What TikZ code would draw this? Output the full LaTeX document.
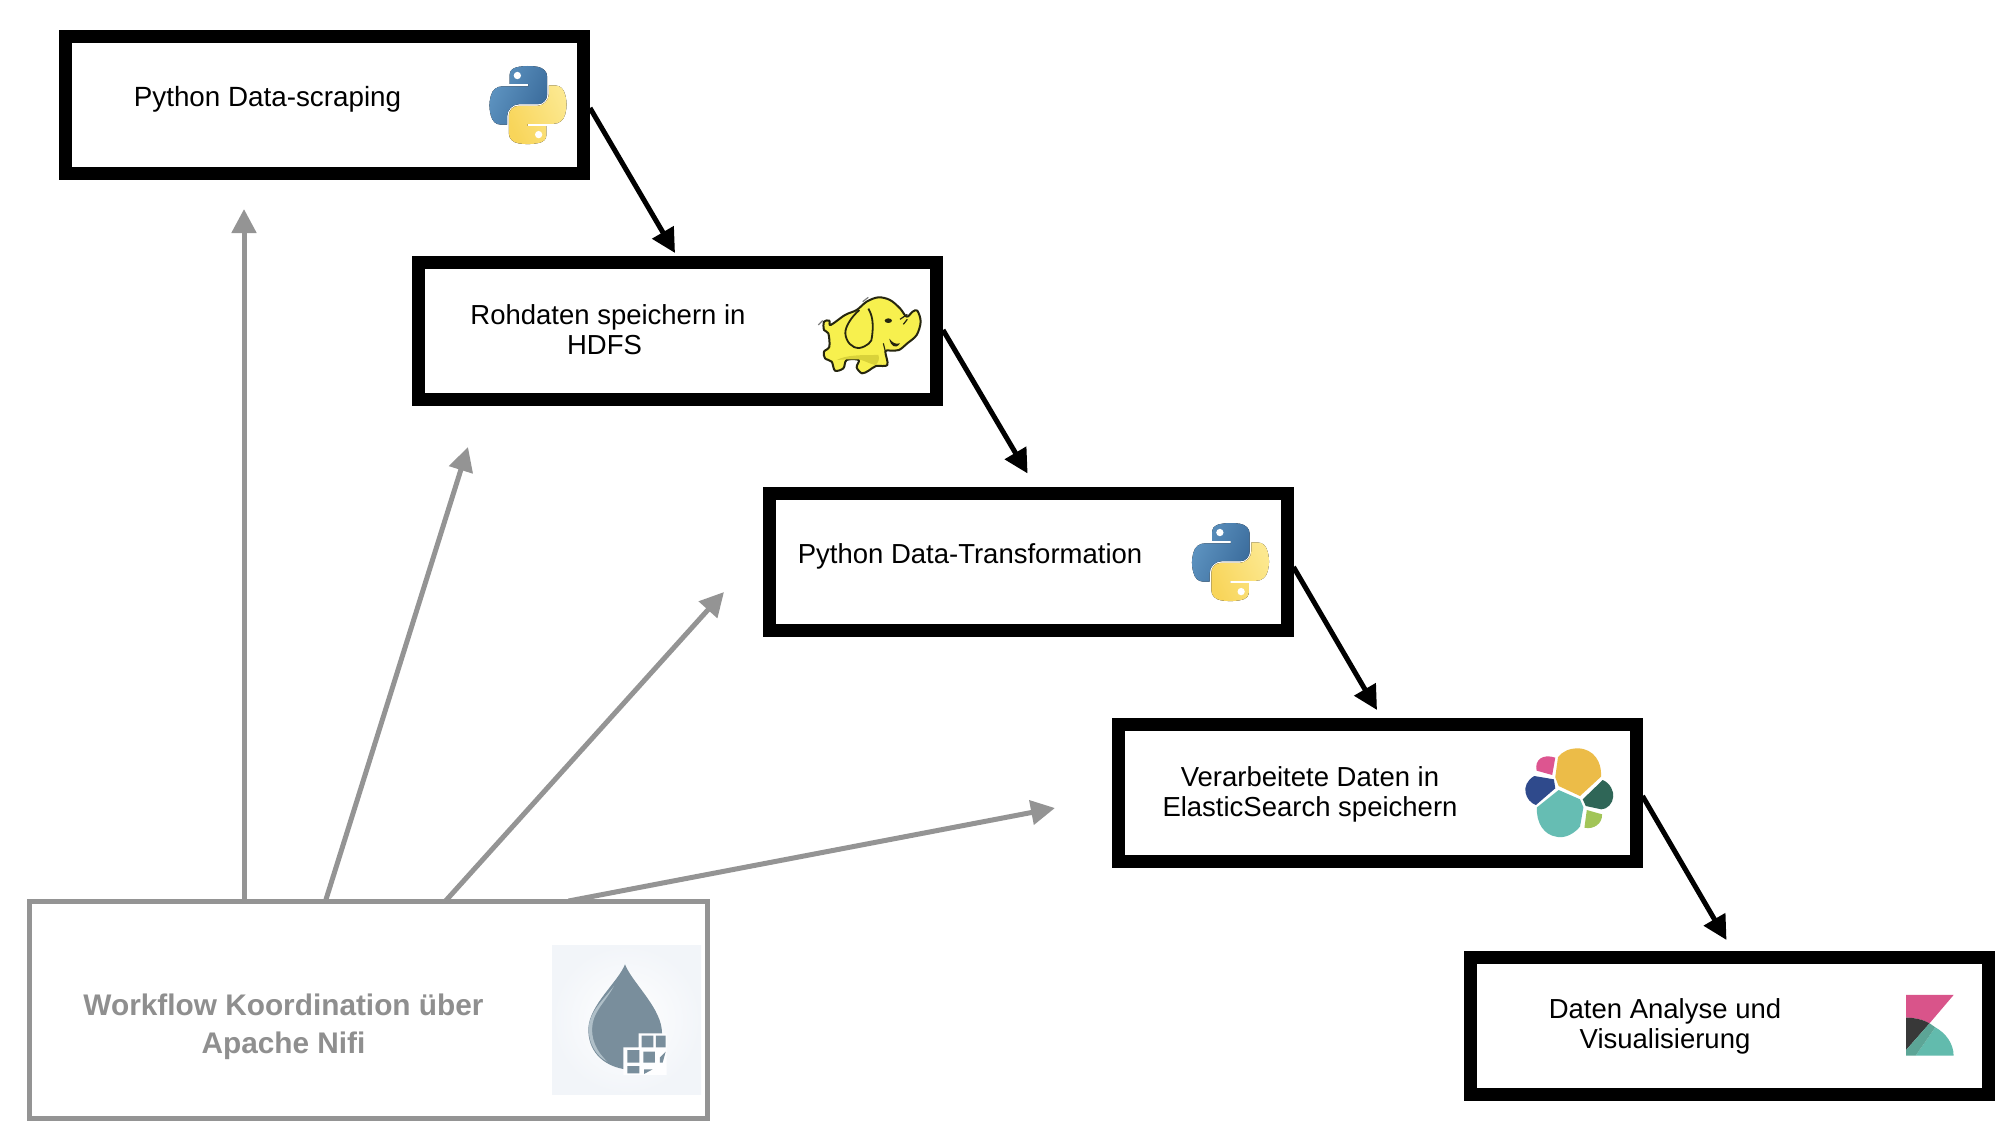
\documentclass[tikz,border=0pt]{standalone}
\usepackage{fontspec}
\setmainfont{Liberation Sans}
\usetikzlibrary{arrows.meta}
\definecolor{gr}{HTML}{949494}
\definecolor{grt}{HTML}{8F8F8F}
\definecolor{pyblueA}{HTML}{5F95C2}
\definecolor{pyblueB}{HTML}{3A6B9B}
\definecolor{pyyelA}{HTML}{FCE88F}
\definecolor{pyyelB}{HTML}{F8D55A}
\definecolor{elephant}{HTML}{F7F04E}
\definecolor{eleshade}{HTML}{D9D23A}
\definecolor{eleline}{HTML}{26260F}
\definecolor{esyellow}{HTML}{ECBC48}
\definecolor{espink}{HTML}{DD5590}
\definecolor{esblue}{HTML}{2F4A8C}
\definecolor{esteal}{HTML}{66BDB3}
\definecolor{esdark}{HTML}{2F6657}
\definecolor{eslight}{HTML}{A2C558}
\definecolor{kbpink}{HTML}{D9548A}
\definecolor{kbdark}{HTML}{383838}
\definecolor{kbteal}{HTML}{62BBAD}
\definecolor{kbmix}{HTML}{5CA596}
\definecolor{drop}{HTML}{798E9C}
\definecolor{droplight}{HTML}{AFBFC8}
\definecolor{nifibg}{HTML}{F2F5F9}
\tikzset{
  stage/.style={draw=black,fill=white,line width=13pt,minimum width=518pt,minimum height=137pt,inner sep=0pt},
  coord/.style={draw=gr,fill=white,line width=5pt,minimum width=678pt,minimum height=217pt,inner sep=0pt},
  lab/.style={font=\fontsize{27.5pt}{30pt}\selectfont,text=black,inner sep=0pt,align=center,anchor=center},
  lablong/.style={lab,font=\fontsize{27.8pt}{30pt}\selectfont},
  glab/.style={font=\fontsize{29.8pt}{37.7pt}\selectfont\bfseries,text=grt,inner sep=0pt,align=center,anchor=center},
  flow/.style={draw=black,line width=5pt,-{Triangle[length=24pt,width=24pt]}},
  ctrl/.style={draw=gr,line width=5pt,-{Triangle[length=24pt,width=24pt]}},
}
\newcommand{\pylogo}[2]{%
\begin{scope}[shift={(#1,#2)},x=0.70pt,y=-0.71pt]
\fill[left color=pyblueA,right color=pyblueB,shading angle=65]
 (54.9,0) .. controls (50.3,0) and (46,0.4) .. (42.1,1.1)
 .. controls (30.7,3.1) and (28.6,7.3) .. (28.6,15) -- (28.6,25.2) -- (55.4,25.2) -- (55.4,28.6) -- (18.5,28.6)
 .. controls (10.7,28.6) and (3.9,33.3) .. (1.8,42.2)
 .. controls (-0.7,52.3) and (-0.8,58.6) .. (1.8,69.2)
 .. controls (3.7,77) and (8.2,82.6) .. (16,82.6) -- (25.2,82.6) -- (25.2,70.4)
 .. controls (25.2,61.6) and (32.9,53.8) .. (42.1,53.8) -- (68.9,53.8)
 .. controls (76.4,53.8) and (82.4,47.6) .. (82.4,40.1) -- (82.4,15)
 .. controls (82.4,7.8) and (76.3,2.3) .. (68.9,1.1)
 .. controls (64.3,0.3) and (59.5,0) .. (54.9,0) -- cycle;
\fill[left color=pyyelA,right color=pyyelB,shading angle=-65]
 (55.1,110) .. controls (59.7,110) and (64,109.6) .. (67.9,108.9)
 .. controls (79.3,106.9) and (81.4,102.7) .. (81.4,95) -- (81.4,84.8) -- (54.6,84.8) -- (54.6,81.4) -- (91.5,81.4)
 .. controls (99.3,81.4) and (106.1,76.7) .. (108.2,67.8)
 .. controls (110.7,57.7) and (110.8,51.4) .. (108.2,40.8)
 .. controls (106.3,33) and (101.8,27.4) .. (94,27.4) -- (84.8,27.4) -- (84.8,39.6)
 .. controls (84.8,48.4) and (77.1,56.2) .. (67.9,56.2) -- (41.1,56.2)
 .. controls (33.6,56.2) and (27.6,62.4) .. (27.6,69.9) -- (27.6,95)
 .. controls (27.6,102.2) and (33.7,107.7) .. (41.1,108.9)
 .. controls (45.7,109.7) and (50.5,110) .. (55.1,110) -- cycle;
\fill[white] (39.8,13.4) circle[radius=5.2];
\fill[white] (70.2,96.6) circle[radius=5.2];
\end{scope}}
\begin{document}
\begin{tikzpicture}[x=1pt,y=-1pt]
\useasboundingbox (0,0) rectangle (2010,1148);
% boxes
\node[stage] (b1) at (324.5,105) {};
\node[stage] (b2) at (677.5,331) {};
\node[stage] (b3) at (1028,562) {};
\node[stage] (b4) at (1377,793) {};
\node[stage] (b5) at (1729.5,1026) {};
\node[coord] (nifi) at (368.5,1010) {};
% labels
\node[lablong] (t1) at (267.5,99) {Python Data-scraping};
\node[lab] (t2) at (608,329.5) {Rohdaten speichern in\\HDFS\hspace*{7pt}};
\node[lab] (t3) at (970,556.5) {Python Data-Transformation};
\node[lab] (t4) at (1310,794) {Verarbeitete Daten in\\ElasticSearch speichern};
\node[lab] (t5) at (1665,1026) {Daten Analyse und\\Visualisierung};
\node[glab] (t6) at (283.5,1027) {Workflow Koordination über\\Apache Nifi};
% free ends
\coordinate (h1) at (675,253);
\coordinate (h2) at (1027.6,473.5);
\coordinate (h3) at (1377,710);
\coordinate (h4) at (1726.5,940);
\coordinate (g1) at (244,209);
\coordinate (g2) at (468,447);
\coordinate (g3) at (724,592);
\coordinate (g4) at (1055,808);
% connectors
\draw[flow] ([yshift=-3pt]b1.east) -- (h1);
\draw[flow] ([yshift=1pt]b2.east) -- (h2);
\draw[flow] ([yshift=-5pt]b3.east) -- (h3);
\draw[flow] ([yshift=-3pt]b4.east) -- (h4);
\draw[ctrl] ([xshift=-124.5pt,yshift=-2pt]nifi.north) -- (g1);
\draw[ctrl] ([xshift=-43pt,yshift=-2pt]nifi.north) -- (g2);
\draw[ctrl] ([xshift=77pt,yshift=-2pt]nifi.north) -- (g3);
\draw[ctrl] ([xshift=200pt,yshift=-2pt]nifi.north) -- (g4);
% python logos
\pylogo{489.5}{66}
\pylogo{1192}{523}
% hadoop elephant
\begin{scope}[shift={(800,280)},x=0.3333pt,y=-0.3333pt]
\draw[draw=eleline,line width=2pt,fill=elephant,line join=round]
 plot[smooth cycle,tension=.55] coordinates {(352,92)(362,125)(350,165)(322,190)(297,210)(272,212)(256,214)(262,255)(228,258)(206,272)(186,280)(170,262)(176,240)(140,240)(130,265)(105,272)(95,245)(75,235)(72,215)(88,200)(85,160)(72,150)(72,125)(88,122)(92,135)(135,105)(170,90)(200,65)(235,52)(270,60)(300,85)(320,110)(338,95)};
\fill[eleshade] (110,240) .. controls (140,225) and (180,225) .. (235,225) .. controls (240,235) and (235,250) .. (225,255) .. controls (205,250) and (190,240) .. (175,238) -- (140,238) -- cycle;
\draw[eleline,line width=1.8pt,fill=elephant]
 (178,90) .. controls (155,110) and (135,140) .. (136,160) .. controls (138,185) and (155,205) .. (178,204) .. controls (200,200) and (218,185) .. (216,170) .. controls (220,140) and (220,110) .. (205,86);
\fill[eleline] (265,122) ellipse[x radius=11,y radius=7];
\fill[eleline] (268,176) .. controls (272,200) and (288,208) .. (300,190) .. controls (285,194) and (278,188) .. (268,176) -- cycle;
\draw[gray,line width=1.2pt] (55,135) -- (68,122) (188,65) -- (205,52);
\draw[eleline,line width=1.2pt] (300,118) -- (322,103) (310,133) -- (322,118) (256,214) -- (250,190);
\end{scope}
% elasticsearch
\begin{scope}[shift={(1480,720)},x=0.339pt,y=-0.3333pt]
\fill[esyellow] (222,172) -- (230,112) .. controls (245,92) and (265,85) .. (290,85) .. controls (335,87) and (360,125) .. (357,170) -- (295,228) -- (232,198) -- cycle;
\fill[espink] (167,152) .. controls (160,120) and (185,100) .. (222,113) -- (213,165) -- cycle;
\fill[esblue] (160,168) -- (218,178) -- (222,205) -- (165,255) .. controls (135,245) and (115,195) .. (160,168) -- cycle;
\fill[esteal] (232,210) -- (295,238) -- (305,262) -- (295,320) .. controls (270,350) and (240,355) .. (225,350) .. controls (190,345) and (165,310) .. (168,262) -- cycle;
\fill[esdark] (303,238) -- (362,180) .. controls (385,190) and (395,215) .. (393,230) .. controls (392,250) and (375,268) .. (358,268) -- (312,258) -- cycle;
\fill[eslight] (315,270) -- (360,283) .. controls (362,310) and (335,330) .. (308,323) -- cycle;
\end{scope}
% kibana
\begin{scope}[shift={(1480,720)},x=0.339pt,y=-0.3333pt]
\fill[kbpink] (1257,825) -- (1397,825) -- (1326,910) .. controls (1305,898) and (1280,893) .. (1257,893) -- cycle;
\fill[kbdark] (1257,893) .. controls (1280,893) and (1305,898) .. (1326,910) -- (1257,990) -- cycle;
\fill[kbteal] (1343,922) .. controls (1375,940) and (1397,972) .. (1397,1007) -- (1285,1007) -- cycle;
\fill[kbmix] (1326,910) -- (1343,922) -- (1285,1007) -- (1257,1007) -- (1257,990) -- cycle;
\end{scope}
% nifi
\fill[inner color=white,outer color=nifibg] (552,945) rectangle (701,1094);
\begin{scope}[shift={(570,950)},x=0.3333pt,y=-0.3333pt]
\fill[drop] (165,43) .. controls (185,95) and (265,165) .. (275,235) -- (280,300) -- (190,360) -- (160,357) .. controls (95,345) and (53,300) .. (55,235) .. controls (58,165) and (145,95) .. (165,43) -- cycle;
\fill[droplight] (132,108) .. controls (100,150) and (58,185) .. (56,235) .. controls (55,280) and (80,320) .. (112,335) .. controls (80,305) and (60,265) .. (68,220) .. controls (75,180) and (110,150) .. (132,108) -- cycle;
\fill[white!95!nifibg] (160,292) -- (206,292) -- (206,250) -- (290,250) -- (290,375) -- (160,375) -- cycle;
\fill[drop] (215,257) rectangle (250,292) (258,257) rectangle (287,292)
 (172,300) rectangle (208,338) (220,305) rectangle (255,338)
 (172,348) rectangle (208,370);
\fill[drop] (270,338) -- (270,322) -- (287,305) -- (278,338) -- cycle;
\fill[drop] (222,358) -- (248,358) -- (222,372) -- cycle;
\end{scope}
\end{tikzpicture}
\end{document}
